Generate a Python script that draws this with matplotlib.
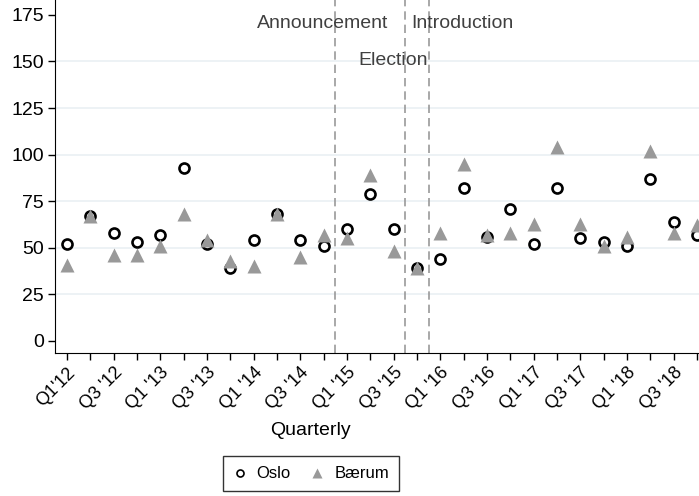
import numpy as np
import matplotlib.pyplot as plt

plt.rcParams['font.family'] = ['Liberation Sans', 'DejaVu Sans']

quarters = [f"Q{q} '{y}" for y in range(12, 19) for q in range(1, 5)]
quarters[0] = "Q1'12"
oslo = [52, 67, 58, 53, 57, 93, 52, 39,
        54, 68, 54, 51, 60, 79, 60, 39,
        44, 82, 56, 71, 52, 82, 55, 53,
        51, 87, 64, 57]
baerum = [41, 67, 46, 46, 51, 68, 54, 43,
          40, 68, 45, 57, 55, 89, 48, 39,
          58, 95, 57, 58, 63, 104, 63, 51,
          56, 102, 58, 62]
events = [11.5, 14.5, 15.5]
event_labels = ['Announcement', 'Election', 'Introduction']

x = np.arange(len(quarters))

fig = plt.figure(figsize=(6.99, 4.96), dpi=100)
ax = fig.add_axes([0.0787, 0.2883, 0.9213, 0.7117])

for v in [25, 50, 75, 100, 125, 150]:
    ax.axhline(v, color='#eaf0f3', lw=1.2, zorder=0)

for e in events:
    ax.axvline(e, color='#999999', lw=1.2, ls=(0, (5, 3)), zorder=1)

ax.text(10.97, 170.5, event_labels[0], ha='center', va='center', fontsize=14, color='#404040')
ax.text(13.97, 150.3, event_labels[1], ha='center', va='center', fontsize=14, color='#404040')
ax.text(16.97, 170.5, event_labels[2], ha='center', va='center', fontsize=14, color='#404040')

ax.plot(x, oslo, 'o', ms=7.2, mfc='white', mec='black', mew=1.9, ls='none', label='Oslo', zorder=3)
ax.plot(x, baerum, '^', ms=10, color='#999999', mec='none', ls='none', label='Bærum', zorder=4)

ax.set_xlim(-0.51, 27.09)
ax.set_ylim(-6.5, 183)
ax.set_yticks([0, 25, 50, 75, 100, 125, 150, 175])
ax.set_xticks(x)
ax.set_xticklabels([q if i % 2 == 0 else '' for i, q in enumerate(quarters)],
                   rotation=45, ha='right', rotation_mode='anchor', fontsize=13)
ax.tick_params(axis='y', labelsize=14, length=5, width=1, pad=3)
ax.tick_params(axis='x', length=5, width=1, pad=3)
ax.spines['top'].set_visible(False)
ax.spines['right'].set_visible(False)
ax.set_xlabel('Quarterly', fontsize=14)
ax.xaxis.set_label_coords(0.396, -0.195)

h, l = ax.get_legend_handles_labels()
leg = fig.legend(h, l, loc='center', bbox_to_anchor=(0.445, 0.0444), ncol=2,
                 frameon=True, fancybox=False, fontsize=12, markerscale=0.7,
                 handlelength=0.8, handletextpad=0.6, columnspacing=1.2,
                 borderpad=0.6)
leg.get_frame().set_edgecolor('black')
leg.get_frame().set_linewidth(1.0)
for lh in leg.legend_handles:
    if lh.get_marker() == 'o':
        lh.set_markeredgewidth(1.2)

fig.savefig('out.png', dpi=100)
